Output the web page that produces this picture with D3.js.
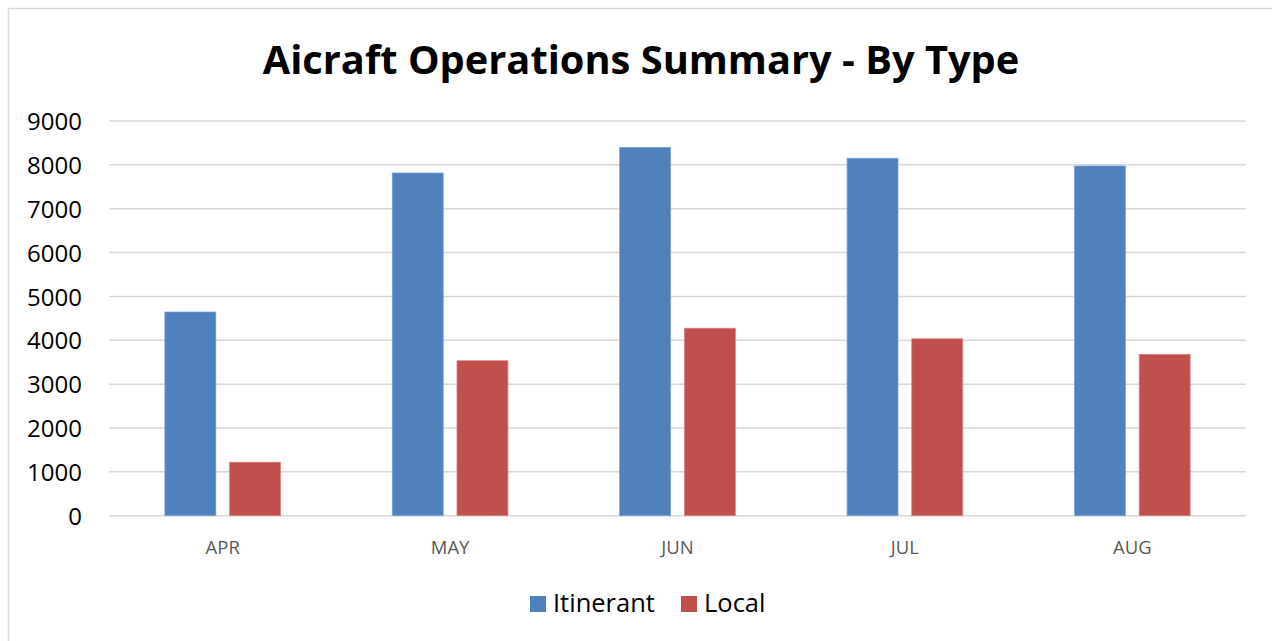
<!DOCTYPE html>
<html><head><meta charset="utf-8">
<script src="https://cdn.jsdelivr.net/npm/d3@7"></script>
<style>body{margin:0;background:#fff}svg{display:block}</style>
</head><body>
<script>
const categories = ["APR","MAY","JUN","JUL","AUG"];
const seriesNames = ["Itinerant","Local"];
const itinerant = [4645, 7815, 8400, 8150, 7975];
const local = [1220, 3535, 4275, 4035, 3680];
const yTicks = [0,1000,2000,3000,4000,5000,6000,7000,8000,9000];
const colors = ["#4F81BD","#C0504D"];
const strokes = ["#7FA3D3","#D98683"];

const W = 1272, H = 641;
const svg = d3.select("body").append("svg").attr("width", W).attr("height", H);
svg.append("rect").attr("x",8.5).attr("y",8.5).attr("width",W+10).attr("height",H+10)
  .attr("fill","#fff").attr("stroke","#d9d9d9").attr("stroke-width",1.5);

const font = "'Open Sans', sans-serif";
svg.append("text").attr("x",641).attr("y",73.5).attr("text-anchor","middle")
  .attr("font-family",font).attr("font-weight","bold").attr("font-size",39.8).attr("fill","#000")
  .text("Aicraft Operations Summary - By Type");

const groupW = 115.7;
const x0 = d3.scaleBand().domain(categories).range([109,1246]);
const x1 = d3.scaleBand().domain(seriesNames).range([0,groupW]).paddingInner(0.212);
const y = d3.scaleLinear().domain([0,9000]).range([515.7,121]);

svg.append("g").selectAll("line").data(yTicks).join("line")
  .attr("x1",109).attr("x2",1246).attr("y1",d=>y(d)).attr("y2",d=>y(d))
  .attr("stroke","#d9d9d9").attr("stroke-width",1.5);

const yAxis = svg.append("g").attr("transform","translate(92,0)")
  .call(d3.axisLeft(y).tickValues(yTicks).tickSize(0).tickPadding(0).tickFormat(d3.format("d")));
yAxis.select(".domain").remove();
yAxis.selectAll("text").attr("font-family",font).attr("font-size",24).attr("fill","#000")
  .attr("x",-10).attr("dy","0.36em");

const xAxis = svg.append("g").attr("transform","translate(0,516)")
  .call(d3.axisBottom(x0).tickSize(0).tickPadding(0));
xAxis.select(".domain").remove();
xAxis.selectAll("text").attr("font-family",font).attr("font-size",18.5).attr("fill","#595959")
  .attr("dy",0).attr("y",37.5);

const data = [itinerant, local];
const groups = svg.append("g").selectAll("g").data(categories).join("g")
  .attr("transform", c => `translate(${x0(c) + (x0.bandwidth()-groupW)/2},0)`);
groups.selectAll("rect").data((c,i) => seriesNames.map((s,j)=>({s, v:data[j][i], j})))
  .join("rect")
  .attr("x", d=>x1(d.s)).attr("width", x1.bandwidth())
  .attr("y", d=>y(d.v)).attr("height", d=>y(0)-y(d.v))
  .attr("fill", d=>colors[d.j]).attr("stroke", d=>strokes[d.j]).attr("stroke-width",0.75);

const leg = svg.append("g");
const legItems = [{s:"Itinerant",x:530,tx:553},{s:"Local",x:681,tx:704}];
legItems.forEach((it,i)=>{
  leg.append("rect").attr("x",it.x).attr("y",596).attr("width",16).attr("height",16).attr("fill",colors[i]);
  leg.append("text").attr("x",it.tx).attr("y",611.5).attr("font-family",font).attr("font-size",25.5).attr("fill","#000").text(it.s);
});
</script>
</body></html>
